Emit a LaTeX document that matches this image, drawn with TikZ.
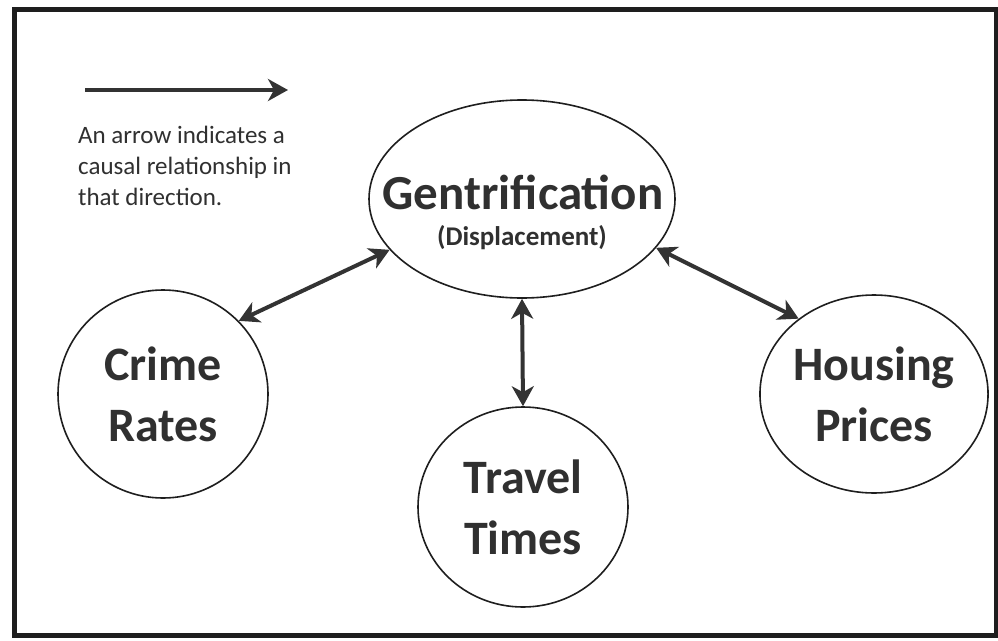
\documentclass[tikz,border=0pt]{standalone}
\usepackage{fontspec}
\setmainfont{Carlito}
\usetikzlibrary{arrows.meta,shapes.geometric}
\definecolor{inkline}{HTML}{1E1E1E}
\definecolor{inktext}{HTML}{303030}
\definecolor{inkarrow}{HTML}{333333}
\tikzset{
  frameline/.style={draw=inkline,line width=5pt},
  bubble/.style={ellipse,draw=inkline,line width=1.6pt,inner sep=0pt,text=inktext,
    font=\fontsize{48}{61}\selectfont\bfseries,align=center},
  biarrow/.style={draw=inkarrow,line width=4pt,
    {Stealth[length=20pt,width=22pt,inset=6pt]}-{Stealth[length=20pt,width=22pt,inset=6pt]}},
  legendarrow/.style={draw=inkarrow,line width=4pt,-{Stealth[length=20pt,width=22pt,inset=6pt]}},
  bigword/.style={text=inktext,font=\fontsize{49}{60}\selectfont\bfseries,anchor=base,inner sep=0pt},
  smallword/.style={text=inktext,font=\fontsize{27}{30}\selectfont\bfseries,anchor=base,inner sep=0pt},
  legendtext/.style={text=inktext,font=\fontsize{25}{31}\selectfont,align=left,anchor=base west,inner sep=0pt}
}
\begin{document}
\begin{tikzpicture}[x=1pt,y=-1pt]
\useasboundingbox (0,0) rectangle (998,640);
\fill[white] (0,0) rectangle (998,640);
\draw[frameline] (14.5,9.5) rectangle (996.5,635);
% legend
\coordinate (la) at (85,90);
\coordinate (lb) at (288,90);
\draw[legendarrow] (la) -- (lb);
\node[legendtext] (legend) at (78,205) {An arrow indicates a\\causal relationship in\\that direction.};
% nodes
\node[bubble,minimum width=306pt,minimum height=198pt] (gent) at (522,199) {};
\node[bigword] (gentA) at (523,209) {Gentrification};
\node[smallword] (gentB) at (522,245) {(Displacement)};
\node[bubble,minimum width=210pt,minimum height=208pt] (crime) at (163,394) {Crime\\Rates};
\node[bubble,minimum width=212pt,minimum height=198pt] (housing) at (874,394) {Housing\\Prices};
\node[bubble,minimum width=210pt,minimum height=200pt] (travel) at (523,507) {Travel\\Times};
% connectors
\draw[biarrow] (crime.44.6) -- (gent.201.4);
\draw[biarrow] (gent.340) -- (housing.135);
\draw[biarrow] (gent.south) -- (travel.north);
\end{tikzpicture}
\end{document}
